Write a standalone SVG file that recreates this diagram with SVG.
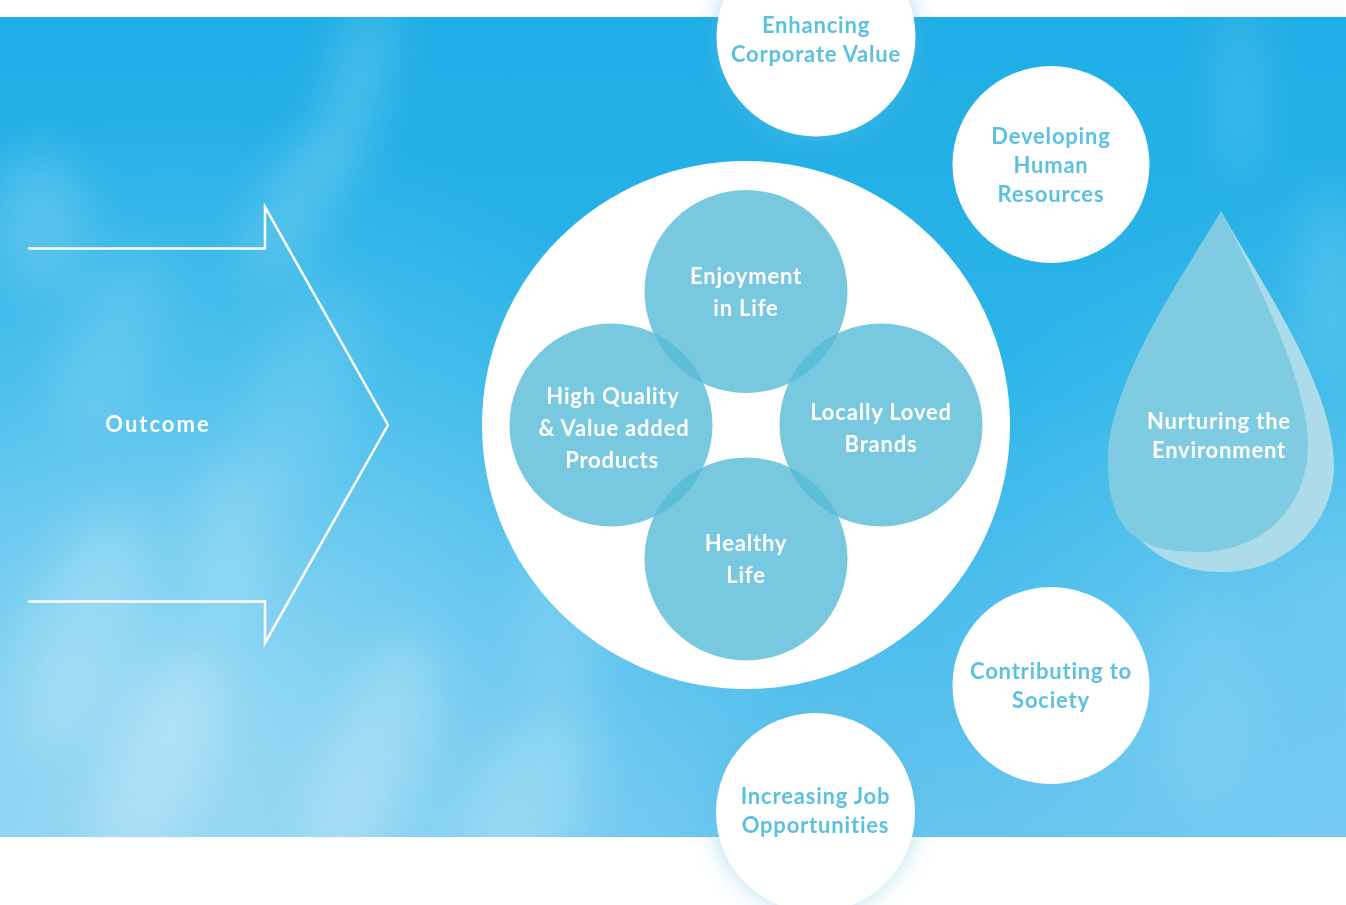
<svg xmlns="http://www.w3.org/2000/svg" width="1346" height="905" viewBox="0 0 1346 905">
  <defs>
    <style>
      .t { font-family: Lato, "Open Sans", "Liberation Sans", sans-serif; font-weight: 700; font-size: 22px; letter-spacing: 0.8px; text-anchor: middle; }
      .inner-t { fill: #ffffff; }
      .outer-t { fill: #5cc1df; }
      .wide { letter-spacing: 2px; }
      .outer { fill: #ffffff; }
      .petal { fill: #56bbd8; fill-opacity: 0.8; }
      .streak { fill: #ffffff; }
      .link { fill: none; stroke: #ffffff; stroke-width: 2.5; stroke-linejoin: miter; stroke-miterlimit: 10; }
    </style>
    <linearGradient id="sky" x1="0" y1="0" x2="0" y2="1">
      <stop offset="0" stop-color="#1eaee5"/>
      <stop offset="0.45" stop-color="#2db5e9"/>
      <stop offset="1" stop-color="#67c5ef"/>
    </linearGradient>
    <radialGradient id="haze" cx="170" cy="720" r="620" gradientUnits="userSpaceOnUse">
      <stop offset="0" stop-color="#ffffff" stop-opacity="0.4"/>
      <stop offset="0.6" stop-color="#ffffff" stop-opacity="0.15"/>
      <stop offset="1" stop-color="#ffffff" stop-opacity="0"/>
    </radialGradient>
    <radialGradient id="rightHaze" cx="1346" cy="600" r="420" gradientUnits="userSpaceOnUse">
      <stop offset="0" stop-color="#ffffff" stop-opacity="0.2"/>
      <stop offset="1" stop-color="#ffffff" stop-opacity="0"/>
    </radialGradient>
    <filter id="soft" x="-50%" y="-50%" width="200%" height="200%">
      <feGaussianBlur stdDeviation="24"/>
    </filter>
    <filter id="glow" x="-50%" y="-50%" width="200%" height="200%">
      <feGaussianBlur stdDeviation="12"/>
    </filter>
    <clipPath id="band">
      <rect x="0" y="17" width="1346" height="820"/>
    </clipPath>
  </defs>

  <!-- page -->
  <rect x="0" y="0" width="1346" height="905" fill="#ffffff"/>
  <rect x="1180" y="0" width="166" height="17" fill="#eef3f5" opacity="0.6" filter="url(#glow)"/>

  <!-- soft sky band -->
  <g clip-path="url(#band)">
    <rect x="0" y="17" width="1346" height="820" fill="url(#sky)"/>
    <rect x="0" y="17" width="1346" height="820" fill="url(#haze)"/>
    <rect x="0" y="17" width="1346" height="820" fill="url(#rightHaze)"/>
    <g filter="url(#soft)">
      <ellipse class="streak" cx="355" cy="90" rx="24" ry="100" transform="rotate(15 355 90)" opacity="0.22"/>
      <ellipse class="streak" cx="290" cy="210" rx="30" ry="80" transform="rotate(25 290 210)" opacity="0.18"/>
      <ellipse class="streak" cx="40" cy="220" rx="45" ry="70" opacity="0.18"/>
      <ellipse class="streak" cx="110" cy="340" rx="45" ry="100" transform="rotate(20 110 340)" opacity="0.12"/>
      <ellipse class="streak" cx="300" cy="400" rx="50" ry="120" transform="rotate(20 300 400)" opacity="0.1"/>
      <ellipse class="streak" cx="80" cy="630" rx="50" ry="130" transform="rotate(20 80 630)" opacity="0.18"/>
      <ellipse class="streak" cx="230" cy="540" rx="40" ry="80" opacity="0.15"/>
      <ellipse class="streak" cx="160" cy="760" rx="45" ry="120" transform="rotate(22 160 760)" opacity="0.22"/>
      <ellipse class="streak" cx="370" cy="760" rx="45" ry="130" transform="rotate(22 370 760)" opacity="0.22"/>
      <ellipse class="streak" cx="530" cy="800" rx="55" ry="100" transform="rotate(25 530 800)" opacity="0.2"/>
      <ellipse class="streak" cx="560" cy="620" rx="45" ry="90" opacity="0.12"/>
      <ellipse class="streak" cx="1240" cy="90" rx="22" ry="90" opacity="0.14"/>
      <ellipse class="streak" cx="1330" cy="280" rx="28" ry="100" opacity="0.15"/>
      <ellipse class="streak" cx="1200" cy="700" rx="60" ry="110" opacity="0.08"/>
    </g>
  </g>

  <!-- halos behind the circles that cross the band edge -->
  <circle cx="816" cy="40" r="100" fill="#58bfe2" opacity="0.5" filter="url(#glow)"/>
  <circle cx="815" cy="810" r="100" fill="#58bfe2" opacity="0.5" filter="url(#glow)"/>

  <!-- outcome arrow -->
  <g id="connectors">
    <path class="link" d="M28,248.5 H265 V207 L388,425 L265,643 V601.5 H28"/>
  </g>
  <g id="outcome">
    <text class="t inner-t wide" x="158" y="431.5">Outcome</text>
  </g>

  <!-- central hub -->
  <g id="hub">
    <circle cx="746" cy="425" r="264" fill="#ffffff"/>
  </g>

  <g id="enjoyment">
    <circle class="petal" cx="746" cy="291.5" r="101.5"/>
  </g>
  <g id="quality">
    <circle class="petal" cx="611" cy="425" r="101.5"/>
  </g>
  <g id="brands">
    <circle class="petal" cx="881" cy="425" r="101.5"/>
  </g>
  <g id="healthy">
    <circle class="petal" cx="746" cy="559" r="101.5"/>
  </g>

  <g id="petal-labels">
    <text class="t inner-t" x="746" y="284">Enjoyment</text>
    <text class="t inner-t" x="746" y="316">in Life</text>
    <text class="t inner-t" x="613" y="404">High Quality</text>
    <text class="t inner-t" x="614" y="436">&amp; Value added</text>
    <text class="t inner-t" x="612" y="467.5">Products</text>
    <text class="t inner-t" x="881" y="420">Locally Loved</text>
    <text class="t inner-t" x="881" y="452">Brands</text>
    <text class="t inner-t" x="746" y="551">Healthy</text>
    <text class="t inner-t" x="746" y="582.5">Life</text>
  </g>

  <!-- surrounding outcomes -->
  <g id="corporate-value">
    <circle class="outer" cx="816" cy="37" r="99.5"/>
    <text class="t outer-t" x="816" y="33">Enhancing</text>
    <text class="t outer-t" x="816" y="62">Corporate Value</text>
  </g>
  <g id="human-resources">
    <circle class="outer" cx="1051" cy="164.5" r="98.5"/>
    <text class="t outer-t" x="1051" y="143.5">Developing</text>
    <text class="t outer-t" x="1051" y="172.5">Human</text>
    <text class="t outer-t" x="1051" y="201.5">Resources</text>
  </g>
  <g id="society">
    <circle class="outer" cx="1051" cy="685.5" r="98.5"/>
    <text class="t outer-t" x="1051" y="679">Contributing to</text>
    <text class="t outer-t" x="1051" y="708">Society</text>
  </g>
  <g id="jobs">
    <circle class="outer" cx="815.5" cy="812.5" r="99.5"/>
    <text class="t outer-t" x="815.5" y="803.5">Increasing Job</text>
    <text class="t outer-t" x="815.5" y="832.5">Opportunities</text>
  </g>

  <!-- water drop: pale back layer, then the body -->
  <g id="environment">
    <path d="M1221,211 C1256,275 1334,385 1334,465 C1334,525 1285,572 1222,572 C1185,572 1160,560 1138,538 L1160,450 Z" fill="#acdcea"/>
    <path d="M1221,211 C1190,265 1108,380 1108,460 C1108,525 1130,552 1198,552 C1260,552 1308,510 1308,445 C1308,380 1252,270 1221,211 Z" fill="#7fcbe1"/>
    <text class="t inner-t" x="1219" y="428.5">Nurturing the</text>
    <text class="t inner-t" x="1219" y="457.5">Environment</text>
  </g>
</svg>
